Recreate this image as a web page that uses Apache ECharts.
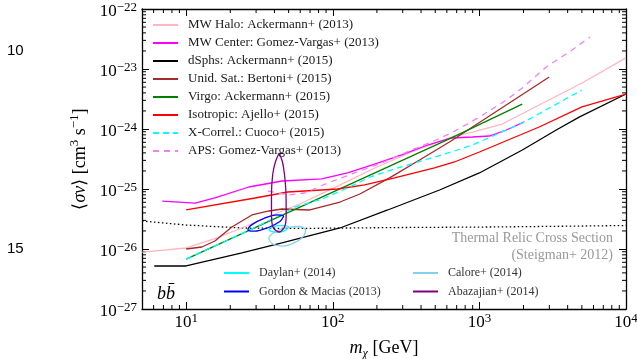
<!DOCTYPE html>
<html>
<head>
<meta charset="utf-8">
<script src="https://cdn.jsdelivr.net/npm/echarts@6/dist/echarts.min.js"></script>
<style>html,body{margin:0;padding:0;background:#fff}#main{width:637px;height:359px}</style>
</head>
<body>
<div id="main"></div>
<script>
/* limits on <sigma v> [cm^3 s^-1] vs m_chi [GeV], bb channel */
var mwHaloData = [[5.02,8.9e-27],[10,1.04e-26],[15.5,1.47e-26],[24,2.24e-26],[45,4.3e-26],[59.6,5.62e-26],[108,1.12e-25],[193,2.24e-25],[345,4.14e-25],[645,7.36e-25],[895,8.91e-25],[1432,1.21e-24],[2557,2.51e-24],[5010,5.84e-24],[10000,1.53e-23]];
var mwCenterData = [[6.87,6.3e-26],[11.5,5.8e-26],[15.7,7.1e-26],[26.8,1.08e-25],[45,1.36e-25],[84.2,1.47e-25],[126,1.85e-25],[184,2.51e-25],[295,3.69e-25],[443,5.41e-25],[645,7.08e-25],[895,7.36e-25],[1170,7.64e-25],[1527,9.62e-25],[2024,1.31e-24]];
var dsphData = [[6.06,5.21e-27],[10,5.21e-27],[24,8.58e-27],[45,1.26e-26],[112,2.24e-26],[237,4.47e-26],[535,9.62e-26],[1000,1.85e-25],[1963,4.47e-25],[3345,9.62e-25],[4790,1.58e-24],[10000,3.83e-24]];
var unidSatData = [[10,1.0e-26],[12.8,1.08e-26],[15.7,1.36e-26],[20.5,2.33e-26],[28.1,3.69e-26],[36.7,4.3e-26],[45,4.64e-26],[69.7,4.47e-26],[112,6.07e-26],[153,8.25e-26],[244,1.53e-25],[391,3.04e-25],[625,6.07e-25],[2994,7.36e-24]];
var virgoData = [[10,6.8e-27],[645,7.1e-25],[1960,2.6e-24]];
var isotropicData = [[10,4.47e-26],[29.5,7.08e-26],[49.4,8.91e-26],[108,1.0e-25],[165,1.17e-25],[264,1.53e-25],[494,2.24e-25],[676,2.82e-25],[1000,4.14e-25],[2557,1.08e-24],[5010,2.33e-24],[10000,3.83e-24]];
var xCorrelData = [[10,6.8e-27],[27.2,2.07e-26],[45,3.83e-26],[55.2,5.01e-26],[84.2,6.81e-26],[126,1.04e-25],[179,1.58e-25],[277,2.24e-25],[403,2.93e-25],[645,4.14e-25],[895,5.41e-25],[1963,1.26e-24],[5010,4.47e-24]];
var apsData = [[36.1,9.26e-26],[49.4,7.94e-26],[64.5,8.58e-26],[92.5,1.26e-25],[141,1.85e-25],[215,2.71e-25],[345,4.47e-25],[472,6.07e-25],[645,8.58e-25],[1000,1.58e-24],[1527,3.04e-24],[1961,4.82e-24],[2857,1.08e-23],[4293,2.07e-23],[5690,3.42e-23]];
var relicData = [[5,2.93e-26],[10,2.51e-26],[24,2.24e-26],[59.6,2.2e-26],[284,2.28e-26],[1300,2.33e-26],[10000,2.46e-26]];

// GC excess best-fit contours (closed loops)
var daylanContour = [[50.2,2.33e-26],[47.2,2.03e-26],[42.3,1.9e-26],[37.9,1.96e-26],[36.7,2.11e-26],[39.1,2.37e-26],[43.6,2.46e-26],[47.9,2.46e-26],[50.2,2.33e-26]];
var gordonContour = [[46.4,3.55e-26],[43.6,2.88e-26],[36.0,2.26e-26],[29.3,1.98e-26],[26.4,2.07e-26],[28.1,2.55e-26],[34.0,3.25e-26],[41.9,3.71e-26],[46.4,3.55e-26]];
var caloreContour = [[65.5,2.11e-26],[59.6,2.37e-26],[49.4,2.28e-26],[40.9,1.96e-26],[36.7,1.53e-26],[39.1,1.21e-26],[45.7,1.12e-26],[56.0,1.31e-26],[63.5,1.65e-26],[65.5,2.11e-26]];
var abazajianContour = [[43.1,3.98e-25],[45.4,2.82e-25],[46.9,1.71e-25],[48.0,7.94e-26],[48.1,3.69e-26],[47.2,2.42e-26],[42.9,1.92e-26],[39.1,2.33e-26],[38.2,3.69e-26],[38.2,7.94e-26],[38.9,1.71e-25],[40.6,2.82e-25],[43.1,3.98e-25]];

var legendMain = ['MW Halo: Ackermann+ (2013)','MW Center: Gomez-Vargas+ (2013)','dSphs: Ackermann+ (2015)','Unid. Sat.: Bertoni+ (2015)','Virgo: Ackermann+ (2015)','Isotropic: Ajello+ (2015)','X-Correl.: Cuoco+ (2015)','APS: Gomez-Vargas+ (2013)'];
var legendLeft = ['Daylan+ (2014)','Gordon & Macias (2013)'];
var legendRight = ['Calore+ (2014)','Abazajian+ (2014)'];

var xMin = 5, xMax = 10000, yMin = 1e-27, yMax = 1e-22;

// echarts rounds tiny log values to 0, so the y values go to the chart in units of 1e-27
var Y_UNIT = 1e-27, Y_EXP = -27;
function toUnit(arr){ return arr.map(function(p){ return [p[0], p[1] / Y_UNIT]; }); }

// minor tick positions (2..9 x decade)
var minorX = [], minorY = [];
[1,10,100,1000].forEach(function(d){
  for (var k=2;k<10;k++){ if (k*d > xMin && k*d < xMax) minorX.push([k*d, 10]); }
});
[1,10,100,1000,10000].forEach(function(d){
  for (var k=2;k<10;k++){ minorY.push([6, k*d]); }
});

var SERIF = '"Liberation Serif","Times New Roman",serif';

var myChart = echarts.init(document.getElementById('main'), null, {renderer:'canvas'});

function powLabel(shift){
  return function(v){
    var e = Math.round(Math.log(v)/Math.LN10);
    if (!isFinite(e) || Math.abs(v/Math.pow(10,e) - 1) > 1e-6) return '';
    e += shift;
    return '{b|10}{e|' + (e < 0 ? '\u2212' + (-e) : e) + '}';
  };
}
var labelRich = {
  b:{fontFamily:SERIF, fontSize:17, lineHeight:22, color:'#000'},
  e:{fontFamily:SERIF, fontSize:13, lineHeight:13, verticalAlign:'top', color:'#000'}
};

function lineSeries(name, data, color, dash){
  return {
    name:name, type:'line', data:toUnit(data), symbol:'none', smooth:false,
    xAxisIndex:0, yAxisIndex:0, silent:true,
    lineStyle:{color:color, width:1.3, type:dash || 'solid'},
    itemStyle:{color:color}
  };
}
function loopSeries(name, data, color){
  var s = lineSeries(name, data, color);
  s.smooth = 0.35;
  return s;
}

function tickRender(isX){
  return function(params, api){
    var cs = params.coordSys;
    var p = api.coord([api.value(0), api.value(1)]);
    var L = 4, st = {stroke:'#000', lineWidth:1};
    if (isX) {
      return {type:'group', children:[
        {type:'line', shape:{x1:p[0], y1:cs.y+cs.height, x2:p[0], y2:cs.y+cs.height-L}, style:st},
        {type:'line', shape:{x1:p[0], y1:cs.y, x2:p[0], y2:cs.y+L}, style:st}
      ]};
    }
    return {type:'group', children:[
      {type:'line', shape:{x1:cs.x, y1:p[1], x2:cs.x+L, y2:p[1]}, style:st},
      {type:'line', shape:{x1:cs.x+cs.width, y1:p[1], x2:cs.x+cs.width-L, y2:p[1]}, style:st}
    ]};
  };
}

var axisCommon = {
  type:'log', logBase:10,
  axisLine:{show:true, onZero:false, lineStyle:{color:'#000', width:1.3}},
  axisTick:{show:true, inside:true, length:7, lineStyle:{color:'#000', width:1}},
  splitLine:{show:false}, minorTick:{show:false}
};

function legendBox(names, left, top, size, color, gap){
  return {
    data:names, orient:'vertical', left:left, top:top, padding:0,
    itemWidth:25, itemHeight:14, itemGap:gap, selectedMode:false,
    itemStyle:{color:'rgba(0,0,0,0)', borderColor:'rgba(0,0,0,0)', borderWidth:0},
    textStyle:{fontFamily:SERIF, fontSize:size, color:color, padding:[0,0,0,5], lineHeight:14}
  };
}

var option = {
  backgroundColor:'#fff',
  animation:false,
  grid:{left:142, right:11, top:9, bottom:50, containLabel:false, outerBoundsMode:'none'},
  xAxis:[
    Object.assign({}, axisCommon, {
      position:'bottom', min:xMin, max:xMax,
      axisLabel:{formatter:powLabel(0), margin:3, rich:labelRich, showMinLabel:true, showMaxLabel:true},
      name:'{i|m}{s|\u03c7}{n| [GeV]}', nameLocation:'middle', nameGap:27,
      nameTextStyle:{rich:{
        i:{fontFamily:SERIF, fontStyle:'italic', fontSize:18, lineHeight:24, color:'#000'},
        s:{fontFamily:SERIF, fontStyle:'italic', fontSize:12, lineHeight:12, verticalAlign:'bottom', color:'#000'},
        n:{fontFamily:SERIF, fontSize:18, lineHeight:24, color:'#000'}
      }}
    }),
    Object.assign({}, axisCommon, {position:'top', min:xMin, max:xMax, axisLabel:{show:false}})
  ],
  yAxis:[
    Object.assign({}, axisCommon, {
      position:'left', min:yMin / Y_UNIT, max:yMax / Y_UNIT,
      axisLabel:{formatter:powLabel(Y_EXP), margin:5, rich:labelRich, padding:[6,0,0,0], showMinLabel:true, showMaxLabel:true},
      name:'{n|\u27e8}{i|\u03c3v}{n|\u27e9 [cm}{p|3}{n| s}{p|\u22121}{n|]}', nameLocation:'middle', nameGap:50,
      nameTextStyle:{rich:{
        i:{fontFamily:SERIF, fontStyle:'italic', fontSize:18, lineHeight:24, color:'#000'},
        n:{fontFamily:SERIF, fontSize:18, lineHeight:24, color:'#000'},
        p:{fontFamily:SERIF, fontSize:13, lineHeight:13, verticalAlign:'top', color:'#000'}
      }}
    }),
    Object.assign({}, axisCommon, {position:'right', min:yMin / Y_UNIT, max:yMax / Y_UNIT, axisLabel:{show:false}})
  ],
  legend:[
    legendBox(legendMain, 152, 18, 13, '#1a1a1a', 4),
    legendBox(legendLeft, 223, 266, 12, '#333', 4.5),
    legendBox(legendRight, 412, 266, 12, '#333', 4.5)
  ],
  graphic:[
    {type:'text', left:7, top:43, style:{text:'10', font:'15px "Liberation Sans", Arial, sans-serif', fill:'#000'}},
    {type:'text', left:7, top:241, style:{text:'15', font:'15px "Liberation Sans", Arial, sans-serif', fill:'#000'}},
    {type:'text', left:157, top:285, style:{text:'bb\u0304', font:'italic 18px ' + SERIF, fill:'#000'}},
    {type:'text', x:613, y:230, style:{text:'Thermal Relic Cross Section\n(Steigman+ 2012)', align:'right', textAlign:'right', verticalAlign:'top',
      font:'14px ' + SERIF, lineHeight:17, fill:'#999'}}
  ],
  series:[
    lineSeries('relic', relicData, '#000', [1.5,2.5]),
    lineSeries(legendMain[0], mwHaloData, '#ffb6c1'),
    lineSeries(legendMain[1], mwCenterData, '#ff00ff'),
    lineSeries(legendMain[2], dsphData, '#000000'),
    lineSeries(legendMain[3], unidSatData, '#a52a2a'),
    lineSeries(legendMain[4], virgoData, '#008000'),
    lineSeries(legendMain[5], isotropicData, '#ff0000'),
    lineSeries(legendMain[6], xCorrelData, '#00ffff', [6,4]),
    lineSeries(legendMain[7], apsData, '#ee82ee', [6,5]),
    loopSeries(legendLeft[0], daylanContour, '#00ffff'),
    loopSeries(legendLeft[1], gordonContour, '#0000ff'),
    loopSeries(legendRight[0], caloreContour, '#87ceeb'),
    loopSeries(legendRight[1], abazajianContour, '#800080'),
    {type:'custom', name:'minorX', data:minorX, renderItem:tickRender(true), encode:{x:0,y:1}, silent:true, clip:false, z:3},
    {type:'custom', name:'minorY', data:minorY, renderItem:tickRender(false), encode:{x:0,y:1}, silent:true, clip:false, z:3}
  ]
};
myChart.setOption(option);
</script>
</body>
</html>
